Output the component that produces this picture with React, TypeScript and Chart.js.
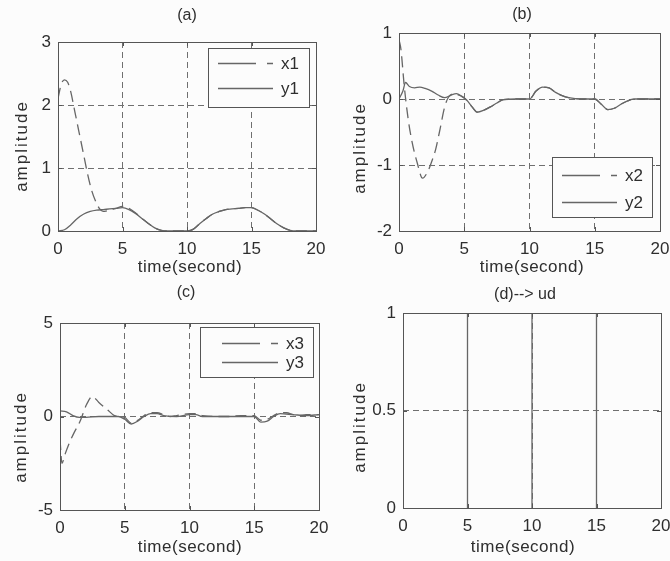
import React, { useEffect, useRef } from "react";
import { Chart, registerables } from "chart.js";

Chart.register(...registerables);

// ---------------- data ----------------
const TIME_TICKS = [0, 5, 10, 15, 20];
const A_TICKS = [0, 1, 2, 3];
const B_TICKS = [-2, -1, 0, 1];
const C_TICKS = [-5, 0, 5];
const D_TICKS = [0, 0.5, 1];

// (a)
const tA_x1 = [0, 0.25, 0.5, 0.75, 1.0, 1.3, 1.7, 2.0, 2.3, 2.6, 2.9, 3.2, 3.5, 4.0, 4.5, 5.0, 5.5, 6.0, 6.5, 7.0, 7.5, 8.0, 8.5, 9, 9.5, 10, 10.5, 11, 11.5, 12, 12.5, 13, 13.5, 14, 14.5, 15, 15.5, 16, 16.5, 17, 17.5, 18, 18.5, 19, 19.5, 20];
const vA_x1 = [2.1, 2.33, 2.4, 2.36, 2.2, 1.9, 1.5, 1.2, 0.9, 0.65, 0.48, 0.36, 0.31, 0.33, 0.36, 0.39, 0.36, 0.29, 0.2, 0.12, 0.05, 0.01, 0, 0, 0, 0, 0.03, 0.12, 0.2, 0.27, 0.31, 0.34, 0.35, 0.36, 0.37, 0.37, 0.33, 0.27, 0.19, 0.11, 0.05, 0.01, 0, 0, 0, 0];
const tA_y1 = [0, 0.5, 1, 1.5, 2, 2.5, 3, 3.5, 4, 4.5, 5, 5.5, 6, 6.5, 7, 7.5, 8, 8.5, 9, 9.5, 10, 10.5, 11, 11.5, 12, 12.5, 13, 13.5, 14, 14.5, 15, 15.5, 16, 16.5, 17, 17.5, 18, 18.5, 19, 19.5, 20];
const vA_y1 = [0, 0.02, 0.1, 0.2, 0.27, 0.31, 0.33, 0.34, 0.35, 0.36, 0.37, 0.34, 0.28, 0.2, 0.12, 0.05, 0.01, 0, 0, 0, 0, 0.03, 0.12, 0.2, 0.27, 0.31, 0.34, 0.35, 0.36, 0.37, 0.37, 0.33, 0.27, 0.19, 0.11, 0.05, 0.01, 0, 0, 0, 0];

// (b)
const tB_x2 = [0, 0.15, 0.4, 0.7, 1.0, 1.4, 1.8, 2.2, 2.5, 2.8, 3.1, 3.5, 3.8, 4.2, 4.6, 5.0, 5.6, 6.0, 6.5, 7.0, 7.5, 8.0, 9.0, 10.0, 10.5, 11.0, 11.5, 12.0, 12.5, 13.0, 14.0, 15.0, 15.5, 16.0, 16.5, 17.0, 17.5, 18.0, 19.0, 20.0];
const vB_x2 = [0.9, 0.75, 0.2, -0.3, -0.65, -0.97, -1.2, -1.1, -0.95, -0.77, -0.5, -0.12, 0.03, 0.08, 0.06, 0.02, -0.12, -0.2, -0.17, -0.12, -0.06, -0.01, 0, 0, 0.12, 0.18, 0.17, 0.1, 0.05, 0.02, 0, 0, -0.08, -0.16, -0.14, -0.08, -0.03, 0, 0, 0];
const tB_y2 = [0, 0.3, 0.5, 0.8, 1.2, 1.6, 2.0, 2.5, 3.0, 3.5, 4.0, 4.4, 4.8, 5.2, 5.6, 6.0, 6.5, 7.0, 7.5, 8.0, 9.0, 10.0, 10.5, 11.0, 11.5, 12.0, 12.5, 13.0, 14.0, 15.0, 15.5, 16.0, 16.5, 17.0, 17.5, 18.0, 19.0, 20.0];
const vB_y2 = [0, 0.12, 0.25, 0.19, 0.17, 0.18, 0.16, 0.12, 0.06, 0.02, 0.06, 0.08, 0.04, -0.02, -0.12, -0.2, -0.17, -0.12, -0.06, -0.01, 0, 0, 0.12, 0.18, 0.17, 0.1, 0.05, 0.02, 0, 0, -0.08, -0.16, -0.14, -0.08, -0.03, 0, 0, 0];

// (c)
const tC_x3 = [0, 0.15, 0.4, 0.77, 1.1, 1.54, 2.05, 2.5, 3.0, 3.6, 4.2, 4.6, 5.0, 5.5, 6.0, 6.5, 7.0, 7.5, 8.0, 8.5, 9.0, 10.0, 10.5, 11.0, 12.0, 13.0, 14.0, 15.0, 15.5, 16.0, 16.5, 17.0, 17.5, 18.0, 18.5, 19.0, 20.0];
const vC_x3 = [-1.2, -2.5, -2.0, -1.34, -0.85, -0.27, 0.64, 1.07, 0.75, 0.4, 0.05, 0.0, -0.05, -0.35, -0.2, 0.05, 0.2, 0.2, 0.1, 0.0, 0.05, 0.15, 0.15, 0.05, 0.0, 0.0, 0.05, 0.05, -0.2, -0.15, 0.05, 0.2, 0.2, 0.1, 0.05, 0.1, 0.1];
const tC_y3 = [0, 0.5, 1, 1.5, 2, 3, 4, 4.5, 5, 5.5, 6, 6.5, 7, 7.5, 8, 9, 10, 10.5, 11, 12, 14, 15, 15.5, 16, 16.5, 17, 18, 19, 20];
const vC_y3 = [0.3, 0.25, 0.05, -0.05, -0.05, 0, 0, 0, -0.15, -0.4, -0.25, 0, 0.15, 0.15, 0.05, 0, 0.1, 0.1, 0, 0, 0, 0, -0.3, -0.25, 0, 0.15, 0.1, 0.05, 0.1];

// (d)
const tD_ud = [0, 5, 5, 5, 10, 10, 10, 15, 15, 15, 20];
const vD_ud = [1, 1, 0, 1, 1, 0, 1, 1, 0, 1, 1];

// ---------------- styles ----------------
const FONT = "'Liberation Sans', Arial, sans-serif";
const BG = "#fcfcfc";
const TEXT = "#2e2e2e";
const LINE = "#666666";
const GRID = "#6f6f6f";
const FRAME = "#555555";

type Series = { t: number[]; v: number[]; dashed: boolean; smooth: boolean };
type LegendSpec = {
  box: [number, number, number, number];
  rows: number[];
  line: [number, number];
  textX: number;
  labels: string[];
  dashed: boolean[];
};
type Panel = {
  canvas: { left: number; top: number; width: number; height: number };
  area: { left: number; top: number; right: number; bottom: number };
  yMin: number;
  yMax: number;
  yTicks: number[];
  title: string;
  titlePos: [number, number];
  xTitlePos: [number, number];
  yTitlePos: [number, number];
  legend?: LegendSpec;
  series: Series[];
};

const PANELS: Panel[] = [
  {
    canvas: { left: 0, top: 0, width: 335, height: 280 },
    area: { left: 58, top: 42, right: 316, bottom: 231 },
    yMin: 0, yMax: 3, yTicks: A_TICKS,
    title: "(a)", titlePos: [187, 16], xTitlePos: [190, 267], yTitlePos: [22, 146],
    legend: { box: [208, 48, 309, 107], rows: [63, 88], line: [218, 273], textX: 281, labels: ["x1", "y1"], dashed: [true, false] },
    series: [
      { t: tA_x1, v: vA_x1, dashed: true, smooth: true },
      { t: tA_y1, v: vA_y1, dashed: false, smooth: true },
    ],
  },
  {
    canvas: { left: 335, top: 0, width: 335, height: 280 },
    area: { left: 399, top: 33, right: 660, bottom: 231 },
    yMin: -2, yMax: 1, yTicks: B_TICKS,
    title: "(b)", titlePos: [522, 15], xTitlePos: [532, 267], yTitlePos: [360, 148],
    legend: { box: [552, 157, 652, 217], rows: [175, 202], line: [562, 617], textX: 625, labels: ["x2", "y2"], dashed: [true, false] },
    series: [
      { t: tB_x2, v: vB_x2, dashed: true, smooth: true },
      { t: tB_y2, v: vB_y2, dashed: false, smooth: true },
    ],
  },
  {
    canvas: { left: 0, top: 280, width: 335, height: 281 },
    area: { left: 60, top: 323, right: 319, bottom: 510 },
    yMin: -5, yMax: 5, yTicks: C_TICKS,
    title: "(c)", titlePos: [186, 293], xTitlePos: [190, 547], yTitlePos: [21, 437],
    legend: { box: [200, 327, 313, 377], rows: [343, 362], line: [222, 278], textX: 286, labels: ["x3", "y3"], dashed: [true, false] },
    series: [
      { t: tC_x3, v: vC_x3, dashed: true, smooth: true },
      { t: tC_y3, v: vC_y3, dashed: false, smooth: true },
    ],
  },
  {
    canvas: { left: 335, top: 280, width: 335, height: 281 },
    area: { left: 403, top: 313, right: 661, bottom: 508 },
    yMin: 0, yMax: 1, yTicks: D_TICKS,
    title: "(d)--> ud", titlePos: [525, 295], xTitlePos: [523, 547], yTitlePos: [360, 427],
    series: [{ t: tD_ud, v: vD_ud, dashed: false, smooth: false }],
  },
];

const panelPlugin = {
  id: "panelDeco",
  afterDatasetsDraw(chart: any) {
    const p: Panel = chart.options.plugins.panelDeco.panel;
    const ctx: CanvasRenderingContext2D = chart.ctx;
    const { left, top, right, bottom } = chart.chartArea;
    const ox = p.canvas.left, oy = p.canvas.top;
    ctx.save();
    // frame
    ctx.strokeStyle = FRAME;
    ctx.lineWidth = 1;
    ctx.setLineDash([]);
    ctx.strokeRect(Math.round(left) + 0.5, Math.round(top) + 0.5, Math.round(right - left), Math.round(bottom - top));
    // inward ticks
    const xs = chart.scales.x, ys = chart.scales.y;
    ctx.beginPath();
    for (const v of TIME_TICKS) {
      const px = Math.round(xs.getPixelForValue(v)) + 0.5;
      ctx.moveTo(px, bottom); ctx.lineTo(px, bottom - 4);
      ctx.moveTo(px, top); ctx.lineTo(px, top + 4);
    }
    for (const v of p.yTicks) {
      const py = Math.round(ys.getPixelForValue(v)) + 0.5;
      ctx.moveTo(left, py); ctx.lineTo(left + 4, py);
      ctx.moveTo(right, py); ctx.lineTo(right - 4, py);
    }
    ctx.stroke();
    // legend
    if (p.legend) {
      const L = p.legend;
      const [bl, bt, br, bb] = L.box;
      ctx.fillStyle = BG;
      ctx.fillRect(bl - ox, bt - oy, br - bl, bb - bt);
      ctx.strokeStyle = FRAME;
      ctx.strokeRect(bl - ox + 0.5, bt - oy + 0.5, br - bl, bb - bt);
      ctx.font = `17px ${FONT}`;
      ctx.textAlign = "left";
      ctx.textBaseline = "middle";
      L.labels.forEach((lab, i) => {
        const y = L.rows[i] - oy + 0.5;
        ctx.strokeStyle = LINE;
        ctx.lineWidth = 1.3;
        ctx.setLineDash(L.dashed[i] ? [38, 11] : []);
        ctx.beginPath();
        ctx.moveTo(L.line[0] - ox, y);
        ctx.lineTo(L.line[1] - ox, y);
        ctx.stroke();
        ctx.setLineDash([]);
        ctx.fillStyle = TEXT;
        ctx.fillText(lab, L.textX - ox, L.rows[i] - oy + 1);
      });
    }
    // titles
    ctx.fillStyle = TEXT;
    ctx.textAlign = "center";
    ctx.textBaseline = "middle";
    ctx.font = `16px ${FONT}`;
    ctx.fillText(p.title, p.titlePos[0] - ox, p.titlePos[1] - oy);
    ctx.font = `17px ${FONT}`;
    (ctx as any).letterSpacing = "0.5px";
    ctx.fillText("time(second)", p.xTitlePos[0] - ox, p.xTitlePos[1] - oy);
    (ctx as any).letterSpacing = "0px";
    ctx.save();
    ctx.translate(p.yTitlePos[0] - ox, p.yTitlePos[1] - oy);
    ctx.rotate(-Math.PI / 2);
    (ctx as any).letterSpacing = "2px";
    ctx.fillText("amplitude", 0, 0);
    (ctx as any).letterSpacing = "0px";
    ctx.restore();
    ctx.restore();
  },
};

function PanelChart({ panel }: { panel: Panel }) {
  const ref = useRef<HTMLCanvasElement | null>(null);
  useEffect(() => {
    if (!ref.current) return;
    const c = panel.canvas;
    const a = panel.area;
    const gridColor = (min: number, max: number) => (ctx: any) => {
      const v = ctx.tick ? ctx.tick.value : null;
      return v === min || v === max ? "rgba(0,0,0,0)" : GRID;
    };
    const chart = new Chart(ref.current, {
      type: "line",
      data: {
        datasets: panel.series.map((s) => ({
          data: s.t.map((x, i) => ({ x, y: s.v[i] })),
          borderColor: LINE,
          borderWidth: 1.3,
          borderDash: s.dashed ? [11, 6] : [],
          pointRadius: 0,
          fill: false,
          tension: s.smooth ? 0.4 : 0,
          cubicInterpolationMode: s.smooth ? "monotone" : "default",
        })),
      },
      options: {
        animation: false,
        responsive: false,
        maintainAspectRatio: false,
        events: [],
        layout: {
          padding: { left: 0, top: a.top - c.top, right: c.left + c.width - a.right, bottom: 0 },
        },
        plugins: {
          legend: { display: false },
          tooltip: { enabled: false },
          title: { display: false },
          panelDeco: { panel },
        } as any,
        scales: {
          x: {
            type: "linear",
            min: 0,
            max: 20,
            afterBuildTicks: (s: any) => {
              s.ticks = TIME_TICKS.map((v) => ({ value: v }));
            },
            afterFit: (s: any) => {
              s.height = c.top + c.height - a.bottom;
              s.paddingLeft = 0;
              s.paddingRight = 0;
            },
            grid: { color: gridColor(0, 20), drawTicks: false, lineWidth: 1 },
            border: { display: false, dash: [6, 4] },
            ticks: {
              padding: 8,
              color: TEXT,
              font: { family: FONT, size: 17 },
              maxRotation: 0,
              autoSkip: false,
              callback: (v: any) => String(v),
            },
          },
          y: {
            type: "linear",
            min: panel.yMin,
            max: panel.yMax,
            afterBuildTicks: (s: any) => {
              s.ticks = panel.yTicks.map((v) => ({ value: v }));
            },
            afterFit: (s: any) => {
              s.width = a.left - c.left;
            },
            grid: { color: gridColor(panel.yMin, panel.yMax), drawTicks: false, lineWidth: 1 },
            border: { display: false, dash: [6, 4] },
            ticks: {
              padding: 7,
              color: TEXT,
              font: { family: FONT, size: 17 },
              autoSkip: false,
              callback: (v: any) => String(v),
            },
          },
        },
      } as any,
      plugins: [panelPlugin as any],
    });
    return () => chart.destroy();
  }, [panel]);
  const c = panel.canvas;
  return (
    <canvas
      ref={ref}
      width={c.width}
      height={c.height}
      style={{ position: "absolute", left: c.left, top: c.top, width: c.width, height: c.height }}
    />
  );
}

export default function App() {
  return (
    <div style={{ position: "fixed", left: 0, top: 0, width: 670, height: 561, background: BG, overflow: "hidden" }}>
      {PANELS.map((p, i) => (
        <PanelChart key={i} panel={p} />
      ))}
    </div>
  );
}
